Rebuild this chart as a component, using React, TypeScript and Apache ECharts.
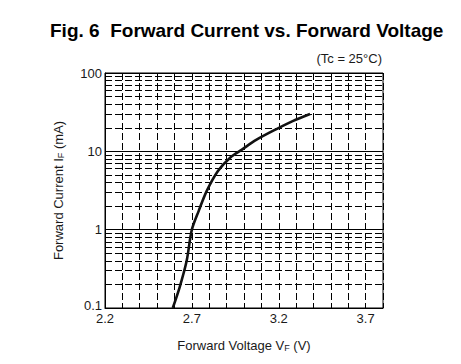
import React, { useEffect, useRef } from "react";
import * as echarts from "echarts";

const voltage = [2.59, 2.63, 2.67, 2.7, 2.74, 2.785, 2.85, 2.92, 2.99, 3.07, 3.19, 3.28, 3.38];
const current = [0.1, 0.185, 0.4, 1.0, 1.75, 3.1, 5.6, 8.3, 10.6, 14, 19.4, 24.3, 30];
const xTickLabels = [2.2, 2.7, 3.2, 3.7];
const yTickLabels = [0.1, 1, 10, 100];
const minorY = [0.2, 0.3, 0.4, 0.5, 0.6, 0.7, 0.8, 0.9, 2, 3, 4, 5, 6, 7, 8, 9, 20, 30, 40, 50, 60, 70, 80, 90];

const FONT = "'Liberation Sans', Arial, sans-serif";
const INK = "#1a1a1a";

export default function App() {
  const ref = useRef<HTMLDivElement>(null);
  useEffect(() => {
    if (!ref.current) return;
    const chart = echarts.init(ref.current, null, { renderer: "svg" });
    const dash = [7, 3];
    chart.setOption({
      animation: false,
      title: [
        {
          text: "Fig. 6  Forward Current vs. Forward Voltage",
          left: 50,
          top: 21,
          padding: 0,
          textStyle: { fontFamily: FONT, fontSize: 19, fontWeight: "bold", color: "#000" },
        },
        {
          text: "(Tc = 25°C)",
          right: 79,
          top: 52,
          padding: 0,
          textStyle: { fontFamily: FONT, fontSize: 13, fontWeight: "normal", color: INK },
        },
      ],
      grid: {
        left: 105,
        right: 78,
        top: 73,
        bottom: 56,
        show: true,
        borderColor: "#000",
        borderWidth: 1,
        backgroundColor: "transparent",
      },
      xAxis: {
        type: "value",
        min: 2.2,
        max: 3.8,
        interval: 0.1,
        name: "Forward Voltage V{sub|F} (V)",
        nameLocation: "middle",
        nameGap: 31,
        nameTextStyle: {
          fontFamily: FONT,
          fontSize: 13,
          color: INK,
          rich: {
            sub: { fontFamily: FONT, fontSize: 9, color: INK, verticalAlign: "bottom", lineHeight: 9, padding: [8, 0, 0, 0] },
          },
        },
        axisLine: { show: true, lineStyle: { color: "#000", width: 1 } },
        axisTick: { show: false },
        axisLabel: {
          margin: 4,
          fontFamily: FONT,
          fontSize: 13,
          color: INK,
          showMinLabel: true,
          showMaxLabel: true,
          formatter: (v: number) =>
            xTickLabels.some((t) => Math.abs(t - v) < 1e-6) ? v.toFixed(1) : "",
        },
        splitLine: { show: true, lineStyle: { color: "#000", width: 1, type: dash } },
      },
      yAxis: {
        type: "log",
        logBase: 10,
        min: 0.1,
        max: 100,
        name: "Forward Current I{sub|F} (mA)",
        nameLocation: "middle",
        nameGap: 40,
        nameRotate: 90,
        nameTextStyle: {
          fontFamily: FONT,
          fontSize: 13,
          color: INK,
          rich: {
            sub: { fontFamily: FONT, fontSize: 9, color: INK, verticalAlign: "bottom", lineHeight: 9, padding: [8, 0, 0, 0] },
          },
        },
        axisLine: { show: true, lineStyle: { color: "#000", width: 1 } },
        axisTick: { show: false },
        axisLabel: {
          margin: 3,
          fontFamily: FONT,
          fontSize: 13,
          color: INK,
          formatter: (v: number) => {
            const m = yTickLabels.find((t) => Math.abs(Math.log10(t) - Math.log10(v)) < 1e-6);
            if (m === undefined) return "";
            return m === yTickLabels[0] ? "{low|" + String(m) + "}" : String(m);
          },
          rich: {
            low: { fontFamily: FONT, fontSize: 13, color: INK, lineHeight: 13, padding: [0, 0, 6, 0] },
          },
        },
        splitLine: { show: true, lineStyle: { color: "#000", width: 1, type: "solid" } },
      },
      series: [
        {
          type: "line",
          data: voltage.map((v, i) => [v, current[i]]),
          showSymbol: false,
          symbol: "none",
          smooth: 0.3,
          lineStyle: { color: "#111", width: 2.6 },
          z: 5,
          markLine: {
            silent: true,
            symbol: "none",
            label: { show: false },
            lineStyle: { color: "#000", width: 1, type: dash },
            emphasis: { disabled: true },
            data: minorY.map((y) => ({ yAxis: y })),
            z: 1,
          },
        },
      ],
    });
    return () => chart.dispose();
  }, []);
  return <div ref={ref} style={{ width: 461, height: 364, position: "absolute", left: 0, top: 0 }} />;
}
